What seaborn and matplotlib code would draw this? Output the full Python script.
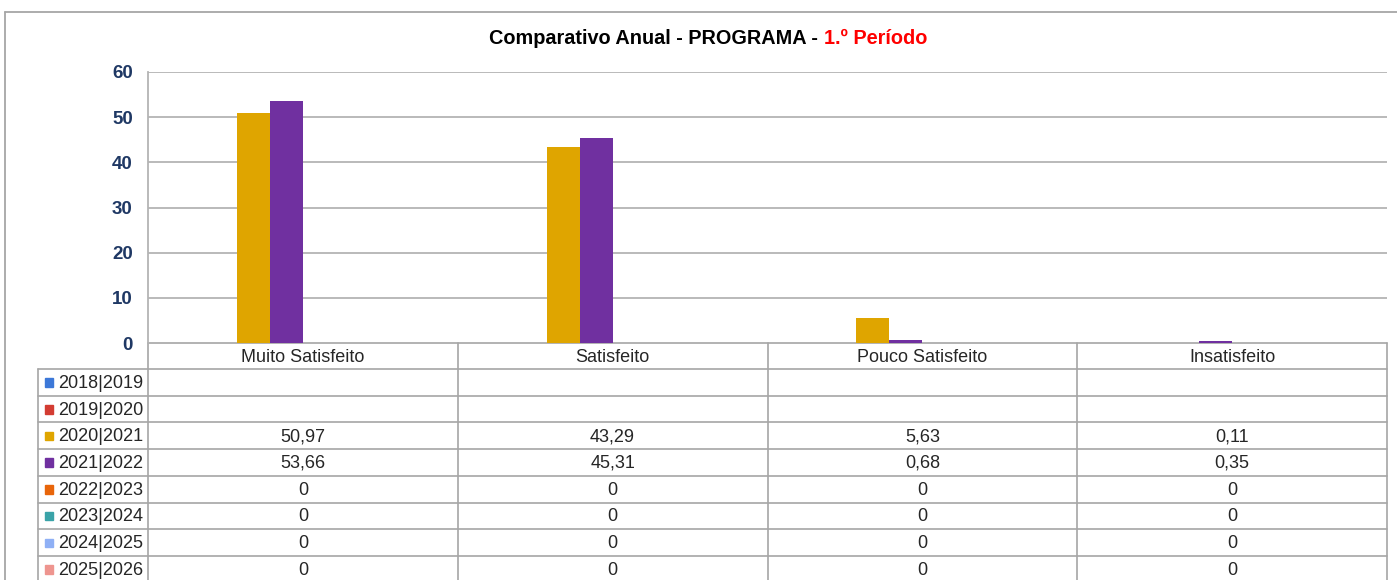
import pandas as pd
import numpy as np
import matplotlib
matplotlib.use('Agg')
import matplotlib.pyplot as plt
import seaborn as sns

# Comparativo anual - satisfacao com o programa, 1.o periodo
categorias = ['Muito Satisfeito', 'Satisfeito', 'Pouco Satisfeito', 'Insatisfeito']
anos = ['2018|2019', '2019|2020', '2020|2021', '2021|2022',
        '2022|2023', '2023|2024', '2024|2025', '2025|2026']
v_2018 = [None, None, None, None]
v_2019 = [None, None, None, None]
v_2020 = [50.97, 43.29, 5.63, 0.11]
v_2021 = [53.66, 45.31, 0.68, 0.35]
v_2022 = [0, 0, 0, 0]
v_2023 = [0, 0, 0, 0]
v_2024 = [0, 0, 0, 0]
v_2025 = [0, 0, 0, 0]
cores = ['#3C78D8', '#D33C32', '#DFA500', '#7030A0',
         '#E8650A', '#3AA3A8', '#8FB0F5', '#EE958F']
yticks = [0, 10, 20, 30, 40, 50, 60]

series = [v_2018, v_2019, v_2020, v_2021, v_2022, v_2023, v_2024, v_2025]
linhas = []
for ano, vals in zip(anos, series):
    for cat, v in zip(categorias, vals):
        linhas.append({'categoria': cat, 'ano': ano,
                       'valor': np.nan if v is None else v})
df = pd.DataFrame(linhas)

sns.set_style('white')
plt.rcParams['font.family'] = ['Liberation Sans', 'DejaVu Sans']

W, H = 1397, 580
fig = plt.figure(figsize=(W / 100, H / 100), dpi=100)

# camada de fundo em pixels para moldura e tabela
bg = fig.add_axes([0, 0, 1, 1])
bg.set_xlim(0, W)
bg.set_ylim(H, 0)
bg.axis('off')

left, right, top, bottom = 148, 1387, 72, 343
ax = fig.add_axes([left / W, (H - bottom) / H, (right - left) / W, (bottom - top) / H])
sns.barplot(data=df, x='categoria', y='valor', hue='ano', order=categorias,
            hue_order=anos, palette=cores, width=0.852, saturation=1,
            errorbar=None, legend=False, linewidth=0, ax=ax)
ax.set_xlim(-0.5, 3.5)
ax.set_ylim(0, 60)
ax.set_yticks(yticks)
ax.set_yticklabels([str(t) for t in yticks], fontsize=13.5, fontweight='bold', color='#1F3864')
ax.tick_params(axis='y', length=0, pad=11)
ax.set_xticks([])
ax.set_xlabel('')
ax.set_ylabel('')
for y in yticks[1:]:
    ax.axhline(y, color='#B4B4B4', lw=1.3, zorder=0)
for s in ['top', 'right', 'bottom']:
    ax.spines[s].set_visible(False)
ax.spines['left'].set_color('#B4B4B4')
ax.spines['left'].set_linewidth(1.3)
ax.patch.set_alpha(0)

# moldura externa
grey = '#A6A6A6'
bg.plot([5, W], [12, 12], color=grey, lw=1.3)
bg.plot([5, 5], [12, H], color=grey, lw=1.3)

# titulo em duas cores
fig.canvas.draw()
r = fig.canvas.get_renderer()
t1 = bg.text(0, 39, 'Comparativo Anual - PROGRAMA - ', fontsize=14.3, fontweight='bold',
             color='black', ha='left', va='center')
t2 = bg.text(0, 39, '1.º Período', fontsize=14.3, fontweight='bold',
             color='#FF0000', ha='left', va='center')
w1 = t1.get_window_extent(r).width
w2 = t2.get_window_extent(r).width
x0 = 708 - (w1 + w2) / 2
t1.set_x(x0)
t2.set_x(x0 + w1)

# tabela de dados
lc = '#A6A6A6'
col_x = [left + i * (right - left) / 4 for i in range(5)]
row_h = 26.7
head_b = 369
row_y = [head_b + i * row_h for i in range(len(anos) + 1)]
tab_left = 38
fs = 13
bg.plot([left, right], [bottom, bottom], color=lc, lw=1.2)
for y in row_y:
    bg.plot([tab_left, right], [y, y], color=lc, lw=1.2)
for x in col_x:
    bg.plot([x, x], [bottom, H], color=lc, lw=1.2)
bg.plot([tab_left, tab_left], [head_b, H], color=lc, lw=1.2)

for i, cat in enumerate(categorias):
    cx = (col_x[i] + col_x[i + 1]) / 2
    bg.text(cx, (bottom + head_b) / 2 + 1, cat, fontsize=fs, ha='center', va='center')

for j, (ano, vals, c) in enumerate(zip(anos, series, cores)):
    cy = (row_y[j] + row_y[j + 1]) / 2 + 1
    bg.add_patch(plt.Rectangle((44.5, cy - 5), 8.5, 8.5, color=c))
    bg.text(58, cy, ano, fontsize=fs, ha='left', va='center')
    for i, v in enumerate(vals):
        if v is None:
            continue
        txt = f'{v:.2f}'.replace('.', ',') if v != 0 else '0'
        cx = (col_x[i] + col_x[i + 1]) / 2
        bg.text(cx, cy, txt, fontsize=fs, ha='center', va='center')

fig.savefig('out.png', dpi=100)
